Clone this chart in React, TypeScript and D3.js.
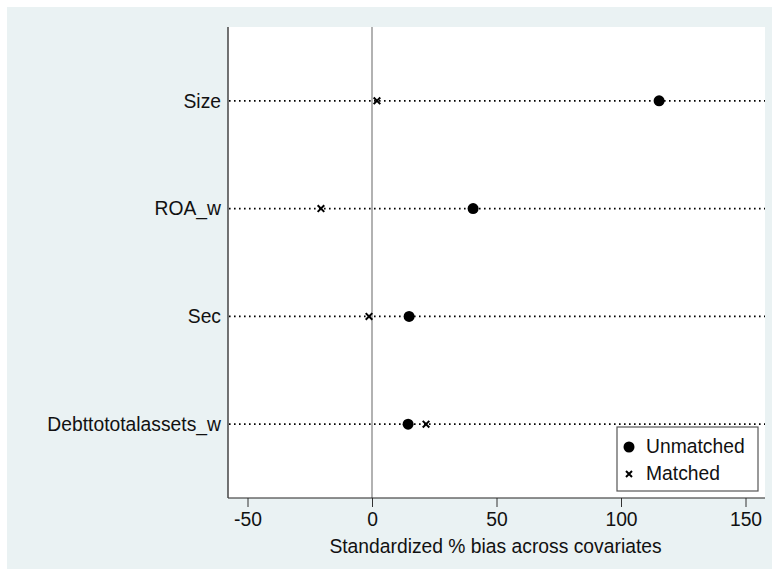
import React, { useEffect, useRef } from 'react';
import * as d3 from 'd3';

const covariates = ['Size', 'ROA_w', 'Sec', 'Debttototalassets_w'];
const unmatched = [115.3, 40.6, 14.9, 14.5];
const matched = [2.0, -20.5, -1.2, 21.7];
const xTicks = [-50, 0, 50, 100, 150];

const App: React.FC = () => {
  const width = 772;
  const height = 569;
  const svgRef = useRef<SVGSVGElement>(null);

  useEffect(() => {
    if (!svgRef.current) return;
    const svg = d3.select(svgRef.current);
    svg.selectAll('*').remove();

    const left = 228;
    const right = 765;
    const top = 27;
    const bottom = 498;
    const font = 'Liberation Sans, Arial, sans-serif';
    const fs = 19.3;

    svg.append('rect').attr('width', width).attr('height', height).attr('fill', '#fff');
    svg.append('rect').attr('x', 7).attr('y', 7).attr('width', width - 7).attr('height', height - 7).attr('fill', '#eaf2f3');
    svg.append('rect').attr('x', left).attr('y', top).attr('width', right - left).attr('height', bottom - top).attr('fill', '#fff');

    const x = d3.scaleLinear().domain([0, 150]).range([372, 745.5]);
    const y = d3.scaleLinear().domain([0.315, 4.685]).range([top, bottom]);

    // zero reference line
    svg.append('line')
      .attr('x1', x(0)).attr('x2', x(0)).attr('y1', top).attr('y2', bottom)
      .attr('stroke', '#999').attr('stroke-width', 1.5);

    // dotted guides
    svg.selectAll('.guide')
      .data(covariates)
      .enter()
      .append('line')
      .attr('x1', left + 1).attr('x2', right)
      .attr('y1', (d, i) => y(i + 1)).attr('y2', (d, i) => y(i + 1))
      .attr('stroke', '#000').attr('stroke-width', 1.6)
      .attr('stroke-dasharray', '1.6 3.4');

    // axes
    const xAxis = svg.append('g')
      .attr('transform', `translate(0, ${bottom})`)
      .call(d3.axisBottom(x).tickValues(xTicks).tickSize(9).tickPadding(5).tickFormat(d => String(d)));
    xAxis.select('.domain').remove();
    xAxis.selectAll('.tick line').attr('stroke', '#333');
    xAxis.selectAll('.tick text').attr('font-family', font).attr('font-size', fs).attr('fill', '#111');
    svg.append('line').attr('x1', left).attr('x2', right).attr('y1', bottom).attr('y2', bottom).attr('stroke', '#222').attr('stroke-width', 1.2);
    svg.append('line').attr('x1', left).attr('x2', left).attr('y1', top).attr('y2', bottom).attr('stroke', '#444').attr('stroke-width', 1.5);

    svg.selectAll('.ylab')
      .data(covariates)
      .enter()
      .append('text')
      .attr('x', left - 7)
      .attr('y', (d, i) => y(i + 1))
      .attr('dy', '0.35em')
      .attr('text-anchor', 'end')
      .attr('font-family', font).attr('font-size', fs).attr('fill', '#111')
      .text(d => d);

    svg.append('text')
      .attr('x', (left + right) / 2 - 1)
      .attr('y', 553)
      .attr('text-anchor', 'middle')
      .attr('font-family', font).attr('font-size', fs).attr('fill', '#111')
      .text('Standardized % bias across covariates');

    // markers
    svg.selectAll('.unm')
      .data(unmatched)
      .enter()
      .append('circle')
      .attr('cx', d => x(d)).attr('cy', (d, i) => y(i + 1)).attr('r', 5.5)
      .attr('fill', '#000');

    const cross = (g: d3.Selection<SVGGElement, unknown, null, undefined>, cx: number, cy: number, s: number) => {
      g.append('path')
        .attr('d', `M${cx - s},${cy - s}L${cx + s},${cy + s}M${cx - s},${cy + s}L${cx + s},${cy - s}`)
        .attr('stroke', '#000').attr('stroke-width', 2);
    };
    const mg = svg.append('g');
    matched.forEach((d, i) => cross(mg as any, x(d), y(i + 1), 3.3));

    // legend
    const lg = svg.append('g');
    lg.append('rect').attr('x', 617).attr('y', 427).attr('width', 141).attr('height', 64)
      .attr('fill', '#fff').attr('stroke', '#555').attr('stroke-width', 1.2);
    lg.append('circle').attr('cx', 629).attr('cy', 447).attr('r', 5.5).attr('fill', '#000');
    cross(lg as any, 629, 474, 3);
    lg.append('text').attr('x', 646).attr('y', 453).attr('font-family', font).attr('font-size', fs).attr('fill', '#111').text('Unmatched');
    lg.append('text').attr('x', 646).attr('y', 480).attr('font-family', font).attr('font-size', fs).attr('fill', '#111').text('Matched');
  }, []);

  return (
    <svg ref={svgRef} width={width} height={height} style={{ position: 'absolute', left: 0, top: 0 }}></svg>
  );
};

export default App;
